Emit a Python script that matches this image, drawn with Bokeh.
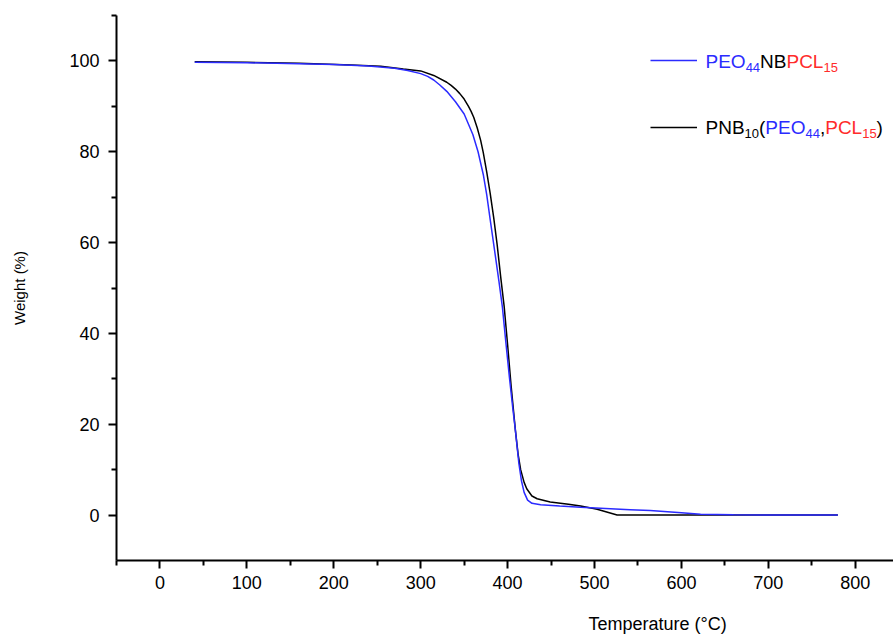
from bokeh.plotting import figure
from bokeh.models import FixedTicker, Label, Legend, LegendItem, Range1d
from bokeh.embed import file_html
from bokeh.resources import INLINE

# ---- data ----
temp_blue = [40, 100, 160, 200, 240, 270, 285, 300, 308, 315, 322, 330, 340, 350, 360, 366, 372,
             376, 380, 385, 390, 394, 398, 402, 406, 409, 413, 416, 419, 423, 428, 438, 460, 484,
             507, 541, 564, 600, 622, 660, 700, 780]
weight_blue = [99.7, 99.6, 99.4, 99.2, 98.9, 98.4, 97.9, 97.2, 96.6, 95.8, 94.7, 93.3, 91.0, 88.3,
               83.8, 80.0, 75.0, 70.5, 65.0, 58.3, 51.5, 45.8, 38.0, 30.5, 23.5, 18.6, 11.3, 7.5,
               5.0, 3.3, 2.6, 2.3, 2.0, 1.7, 1.5, 1.2, 1.0, 0.5, 0.2, 0.05, 0.0, 0.0]

temp_black = [40, 100, 160, 220, 254, 280, 300, 315, 330, 335, 340, 345, 350, 355, 358, 361, 365,
              369, 372, 376, 380, 384, 388, 392, 396, 400, 404, 409, 412, 415, 419, 422, 428, 434,
              449, 470, 484, 503, 526, 600, 700, 780]
weight_black = [99.8, 99.7, 99.5, 99.1, 98.8, 98.2, 97.8, 96.8, 95.3, 94.6, 93.8, 92.8, 91.6, 90.0,
                88.9, 87.6, 85.3, 82.5, 79.8, 75.5, 70.8, 65.5, 59.5, 52.5, 46.0, 37.5, 28.5, 18.6,
                13.5, 10.0, 7.2, 5.8, 4.2, 3.6, 2.9, 2.4, 2.0, 1.3, 0.0, 0.0, 0.0, 0.0]

x_ticks = [0, 100, 200, 300, 400, 500, 600, 700, 800]
x_minor = [-50, 50, 150, 250, 350, 450, 550, 650, 750]
y_ticks = [0, 20, 40, 60, 80, 100]
y_minor = [10, 30, 50, 70, 90, 110]

BLUE = "#2b2bff"
RED = "#ff2b2b"
legend1 = [("PEO", BLUE, False), ("44", BLUE, True), ("NB", "black", False),
           ("PCL", RED, False), ("15", RED, True)]
legend2 = [("PNB", "black", False), ("10", "black", True), ("(", "black", False),
           ("PEO", BLUE, False), ("44", BLUE, True), (",", "black", False),
           ("PCL", RED, False), ("15", RED, True), (")", "black", False)]

FONT = "Liberation Sans"

p = figure(width=893, height=636, output_backend="svg", toolbar_location=None,
           x_range=Range1d(-50, 844), y_range=Range1d(-10, 110),
           min_border_left=116, min_border_right=0, min_border_top=15, min_border_bottom=76)
p.xgrid.visible = False
p.ygrid.visible = False
p.outline_line_color = None
p.background_fill_color = "white"

p.xaxis.ticker = FixedTicker(ticks=x_ticks, minor_ticks=x_minor)
p.yaxis.ticker = FixedTicker(ticks=y_ticks, minor_ticks=y_minor)
for ax in (p.xaxis[0], p.yaxis[0]):
    ax.axis_line_width = 2
    ax.axis_line_color = "black"
    ax.major_tick_line_width = 2
    ax.minor_tick_line_width = 2
    ax.major_tick_line_color = "black"
    ax.minor_tick_line_color = "black"
    ax.major_tick_in = 0
    ax.major_tick_out = 8
    ax.minor_tick_in = 0
    ax.minor_tick_out = 5
    ax.major_label_text_font = FONT
    ax.major_label_text_font_size = "18px"
    ax.major_label_text_color = "black"
    ax.major_label_standoff = 9
p.xaxis.major_label_standoff = 7

p.yaxis.axis_label = "Weight (%)"
p.yaxis.axis_label_text_font = FONT
p.yaxis.axis_label_text_font_size = "15px"
p.yaxis.axis_label_text_font_style = "normal"
p.yaxis.axis_label_text_color = "black"
p.yaxis.axis_label_standoff = 38

# x label sits right of the frame centre in the reference: pad with no-break spaces
p.xaxis.axis_label = "\u00a0" * 61 + "Temperature (°C)"
p.xaxis.axis_label_text_font = FONT
p.xaxis.axis_label_text_font_size = "18px"
p.xaxis.axis_label_text_font_style = "normal"
p.xaxis.axis_label_text_color = "black"
p.xaxis.axis_label_standoff = 22

r_black = p.line(temp_black, weight_black, line_color="black", line_width=1.5)
r_blue = p.line(temp_blue, weight_blue, line_color=BLUE, line_width=1.5)

legend = Legend(items=[LegendItem(label=" ", renderers=[r_blue]),
                       LegendItem(label=" ", renderers=[r_black])],
                location=(534, 423), glyph_width=47, glyph_height=20, label_height=20,
                label_width=0, label_standoff=0, spacing=47, padding=0, margin=0,
                border_line_alpha=0, background_fill_alpha=0,
                label_text_font_size="1px")
p.add_layout(legend)

# rich-text legend labels
WID = {'P': 667, 'E': 667, 'O': 778, 'N': 722, 'B': 667, 'C': 722, 'L': 556,
       '(': 333, ')': 333, ',': 278}
MAIN, SUB = 19, 13


def text_width(s, size):
    return sum(WID.get(c, 556) for c in s) * size / 1000.0


def add_rich(segs, x0, baseline):
    x = x0
    for txt, col, sub in segs:
        size = SUB if sub else MAIN
        y = baseline - 6 if sub else baseline
        p.add_layout(Label(x=x, y=y, x_units="screen", y_units="screen", text=txt,
                           text_align="left", text_baseline="alphabetic",
                           text_font=FONT, text_font_size=f"{size}px", text_color=col))
        x += text_width(txt, size)


add_rich(legend1, 589, 499)
add_rich(legend2, 589, 433)

open("out.html", "w").write(file_html(p, INLINE))
